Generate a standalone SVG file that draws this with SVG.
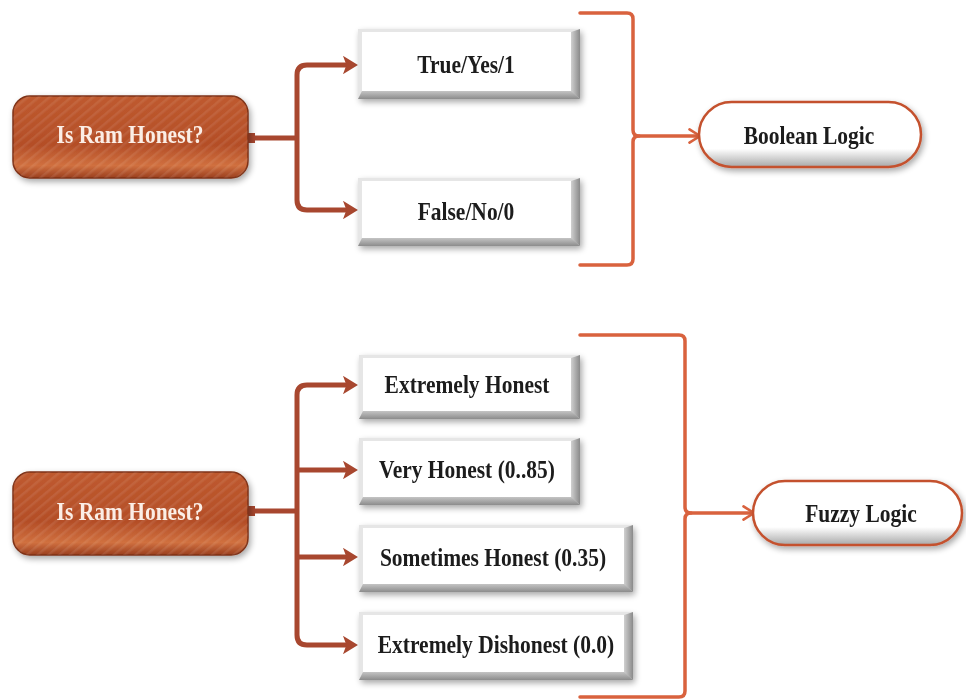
<svg xmlns="http://www.w3.org/2000/svg" width="966" height="700" viewBox="0 0 966 700">
  <defs>
    <linearGradient id="brownFill" x1="0" y1="0" x2="0" y2="1">
      <stop offset="0" stop-color="#bf5a2f"/>
      <stop offset="0.6" stop-color="#b44e27"/>
      <stop offset="0.85" stop-color="#d0703f"/>
      <stop offset="1" stop-color="#9a3f1f"/>
    </linearGradient>
    <pattern id="stripes" width="7" height="7" patternUnits="userSpaceOnUse" patternTransform="rotate(-40)">
      <rect width="7" height="2.5" fill="#ffffff" opacity="0.08"/>
    </pattern>
    <linearGradient id="bevelR" x1="0" y1="0" x2="1" y2="0">
      <stop offset="0" stop-color="#d0d0d0"/>
      <stop offset="1" stop-color="#8a8a8a"/>
    </linearGradient>
    <linearGradient id="bevelB" x1="0" y1="0" x2="0" y2="1">
      <stop offset="0" stop-color="#c4c4c4"/>
      <stop offset="1" stop-color="#8c8c8c"/>
    </linearGradient>
    <linearGradient id="pillFill" x1="0" y1="0" x2="0" y2="1">
      <stop offset="0" stop-color="#ffffff"/>
      <stop offset="0.72" stop-color="#ffffff"/>
      <stop offset="1" stop-color="#a8a8a8"/>
    </linearGradient>
    <filter id="shadow" x="-10%" y="-20%" width="125%" height="150%">
      <feGaussianBlur in="SourceAlpha" stdDeviation="3"/>
      <feOffset dx="2" dy="3" result="b"/>
      <feComponentTransfer><feFuncA type="linear" slope="0.35"/></feComponentTransfer>
      <feMerge><feMergeNode/><feMergeNode in="SourceGraphic"/></feMerge>
    </filter>
    <!-- filled head; its tip sits 11px past the end of the line -->
    <marker id="arrowDark" viewBox="0 0 13 16" refX="3.5" refY="8" markerWidth="3" markerHeight="3.7" orient="auto" markerUnits="strokeWidth">
      <path d="M0,0 L13,8 L0,16 L3,8 Z" fill="#a8472f"/>
    </marker>
    <marker id="chevron" viewBox="0 0 12 12" refX="10" refY="6" markerWidth="4.5" markerHeight="4.5" orient="auto" markerUnits="strokeWidth">
      <path d="M2,1 L10,6 L2,11" fill="none" stroke="#d9623e" stroke-width="2" stroke-linecap="round" stroke-linejoin="round"/>
    </marker>
  </defs>
  <style>
    .q rect.base { fill: url(#brownFill); stroke: #7e3217; stroke-width: 1.5; }
    .q rect.tex { fill: url(#stripes); }
    text { font-family: "Liberation Serif", "Times New Roman", serif; font-weight: bold; font-size: 21.5px; text-anchor: middle; }
    .q text { fill: #fbeee6; }
    .box text, .pill text { fill: #1a1a1a; }
    .box .lt { fill: #e6e6e6; }
    .box .rt { fill: url(#bevelR); }
    .box .bt { fill: url(#bevelB); }
    .box .face { fill: #ffffff; }
    .pill rect { fill: url(#pillFill); stroke: #c4512d; stroke-width: 2.5; }
    .lead { fill: none; stroke: #a8472f; stroke-width: 5; stroke-linejoin: round; }
    .brace { fill: none; stroke: #d9623e; stroke-width: 3.5; stroke-linejoin: round; stroke-linecap: round; }
  </style>

  <!-- connectors -->
  <g id="connectors">
    <!-- top question to its two answers -->
    <rect x="243" y="133" width="12" height="10" fill="#a8472f"/>
    <path class="lead" d="M250,138 H297"/>
    <path class="lead" d="M297,138 V75 Q297,65 307,65 H347" marker-end="url(#arrowDark)"/>
    <path class="lead" d="M297,138 V200 Q297,210 307,210 H347" marker-end="url(#arrowDark)"/>
    <!-- bottom question to its four answers -->
    <rect x="243" y="506" width="12" height="10" fill="#a8472f"/>
    <path class="lead" d="M250,511 H297"/>
    <path class="lead" d="M297,511 V395 Q297,385 307,385 H347" marker-end="url(#arrowDark)"/>
    <path class="lead" d="M297,470 H347" marker-end="url(#arrowDark)"/>
    <path class="lead" d="M297,557 H347" marker-end="url(#arrowDark)"/>
    <path class="lead" d="M297,511 V635 Q297,645 307,645 H347" marker-end="url(#arrowDark)"/>
    <!-- braces -->
    <path class="brace" d="M580,13 H627 Q633,13 633,19 V130 Q633,136 639,136 Q633,136 633,142 V259 Q633,265 627,265 H580"/>
    <path class="brace" d="M639,136 H700" marker-end="url(#chevron)"/>
    <path class="brace" d="M580,335 H679 Q685,335 685,341 V507 Q685,513 691,513 Q685,513 685,519 V691 Q685,697 679,697 H580"/>
    <path class="brace" d="M691,513 H754" marker-end="url(#chevron)"/>
  </g>

  <!-- question nodes -->
  <g id="q-boolean" class="q" filter="url(#shadow)">
    <rect class="base" x="13" y="96" width="235" height="82" rx="17"/>
    <rect class="tex" x="13" y="96" width="235" height="82" rx="17"/>
    <text transform="translate(130,143) scale(1,1.18)">Is Ram Honest?</text>
  </g>
  <g id="q-fuzzy" class="q" filter="url(#shadow)">
    <rect class="base" x="13" y="472" width="235" height="83" rx="17"/>
    <rect class="tex" x="13" y="472" width="235" height="83" rx="17"/>
    <text transform="translate(130,520) scale(1,1.18)">Is Ram Honest?</text>
  </g>

  <!-- answer boxes: light top/left edge, shaded right/bottom bevel -->
  <g id="a-true" class="box" filter="url(#shadow)">
    <polygon class="lt" points="358,29 580,29 571,32 362,32 362,91 358,99"/>
    <polygon class="rt" points="580,29 580,99 571,91 571,32"/>
    <polygon class="bt" points="358,99 580,99 571,91 362,91"/>
    <rect class="face" x="362" y="32" width="209" height="59"/>
    <text transform="translate(466,73) scale(1,1.18)">True/Yes/1</text>
  </g>
  <g id="a-false" class="box" filter="url(#shadow)">
    <polygon class="lt" points="358,178 580,178 571,181 362,181 362,238 358,246"/>
    <polygon class="rt" points="580,178 580,246 571,238 571,181"/>
    <polygon class="bt" points="358,246 580,246 571,238 362,238"/>
    <rect class="face" x="362" y="181" width="209" height="57"/>
    <text transform="translate(466,220) scale(1,1.18)">False/No/0</text>
  </g>
  <g id="a-extreme" class="box" filter="url(#shadow)">
    <polygon class="lt" points="359,355 580,355 571,358 363,358 363,411 359,419"/>
    <polygon class="rt" points="580,355 580,419 571,411 571,358"/>
    <polygon class="bt" points="359,419 580,419 571,411 363,411"/>
    <rect class="face" x="363" y="358" width="208" height="53"/>
    <text transform="translate(467,393) scale(1,1.18)">Extremely Honest</text>
  </g>
  <g id="a-very" class="box" filter="url(#shadow)">
    <polygon class="lt" points="359,438 580,438 571,441 363,441 363,497 359,505"/>
    <polygon class="rt" points="580,438 580,505 571,497 571,441"/>
    <polygon class="bt" points="359,505 580,505 571,497 363,497"/>
    <rect class="face" x="363" y="441" width="208" height="56"/>
    <text transform="translate(467,478) scale(1,1.18)">Very Honest (0..85)</text>
  </g>
  <g id="a-sometimes" class="box" filter="url(#shadow)">
    <polygon class="lt" points="359,525 633,525 624,528 363,528 363,584 359,592"/>
    <polygon class="rt" points="633,525 633,592 624,584 624,528"/>
    <polygon class="bt" points="359,592 633,592 624,584 363,584"/>
    <rect class="face" x="363" y="528" width="261" height="56"/>
    <text transform="translate(493,566) scale(1,1.18)">Sometimes Honest (0.35)</text>
  </g>
  <g id="a-dishonest" class="box" filter="url(#shadow)">
    <polygon class="lt" points="359,612 633,612 624,615 363,615 363,672 359,680"/>
    <polygon class="rt" points="633,612 633,680 624,672 624,615"/>
    <polygon class="bt" points="359,680 633,680 624,672 363,672"/>
    <rect class="face" x="363" y="615" width="261" height="57"/>
    <text transform="translate(496,653) scale(1,1.18)">Extremely Dishonest (0.0)</text>
  </g>

  <!-- result pills -->
  <g id="r-boolean" class="pill" filter="url(#shadow)">
    <rect x="699" y="102" width="222" height="65" rx="32.5"/>
    <text transform="translate(809,144) scale(1,1.18)">Boolean Logic</text>
  </g>
  <g id="r-fuzzy" class="pill" filter="url(#shadow)">
    <rect x="753" y="481" width="209" height="64" rx="32"/>
    <text transform="translate(861,522) scale(1,1.18)">Fuzzy Logic</text>
  </g>
</svg>
